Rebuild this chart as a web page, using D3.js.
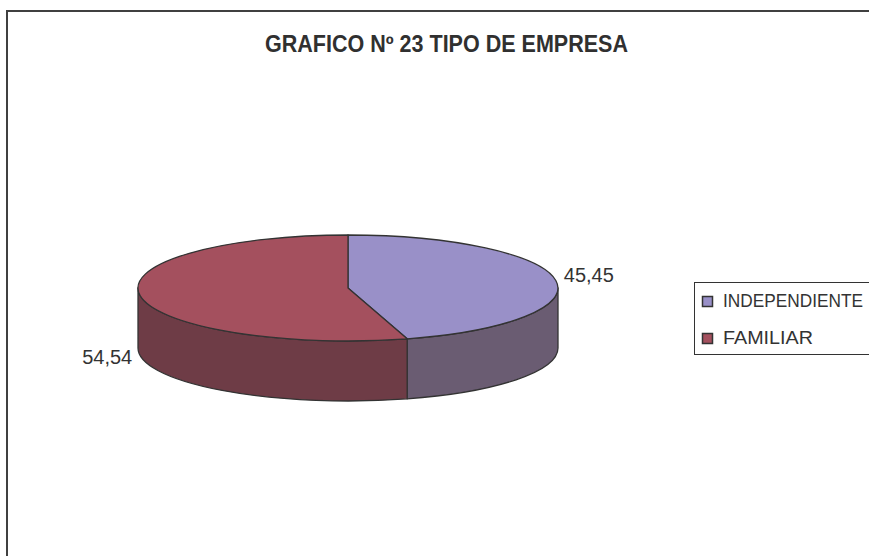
<!DOCTYPE html>
<html>
<head>
<meta charset="utf-8">
<script src="https://cdn.jsdelivr.net/npm/d3@7"></script>
<style>
html,body{margin:0;padding:0;background:#fff;overflow:hidden;}
svg{display:block;font-family:"Liberation Sans",Arial,sans-serif;}
</style>
</head>
<body>
<div id="chart"></div>
<script>
// GRAFICO Nº 23 – pie 3D
const TITLE="GRAFICO Nº 23 TIPO DE EMPRESA";
const categories=["INDEPENDIENTE","FAMILIAR"];
const values=[45.45,54.54];
const topColors=["#9990c8","#a4505e"];
const sideColors=["#6a5c72","#6e3c46"];

const W=869,H=556;
const CX=348,CY=288,RX=210,RY=53,DEPTH=60;
const STROKE="#333333";

const svg=d3.select("#chart").append("svg").attr("width",W).attr("height",H);

// ── CADRE ─────────────────────────────────────────────
svg.append("rect").attr("x",7).attr("y",11).attr("width",W+40).attr("height",H+40)
  .attr("fill","white").attr("stroke","#404040").attr("stroke-width",2);

// ── TITRE ─────────────────────────────────────────────
svg.append("text").attr("x",446.5).attr("y",52).attr("text-anchor","middle")
  .attr("font-size",23).attr("font-weight","bold").attr("fill","#303030")
  .attr("textLength",363).attr("lengthAdjust","spacingAndGlyphs").text(TITLE);

// ── PIE ───────────────────────────────────────────────
const arcs=d3.pie().sort(null).startAngle(0).endAngle(2*Math.PI)(values);
const pt=(a,dy=0)=>[CX+RX*Math.sin(a),CY-RY*Math.cos(a)+dy];
const P=p=>p[0].toFixed(2)+","+p[1].toFixed(2);

const g=svg.append("g");

// côtés (seulement la moitié avant)
const F0=Math.PI/2,F1=3*Math.PI/2;
arcs.forEach((d,i)=>{
  const s0=Math.max(d.startAngle,F0),s1=Math.min(d.endAngle,F1);
  if(s1<=s0)return;
  const path=`M${P(pt(s0))} A${RX},${RY} 0 0 1 ${P(pt(s1))} L${P(pt(s1,DEPTH))} A${RX},${RY} 0 0 0 ${P(pt(s0,DEPTH))} Z`;
  g.append("path").attr("d",path).attr("fill",sideColors[i])
    .attr("stroke",STROKE).attr("stroke-width",1.3).attr("stroke-linejoin","round");
});

// dessus
arcs.forEach((d,i)=>{
  const large=d.endAngle-d.startAngle>Math.PI?1:0;
  const path=`M${CX},${CY} L${P(pt(d.startAngle))} A${RX},${RY} 0 ${large} 1 ${P(pt(d.endAngle))} Z`;
  g.append("path").attr("d",path).attr("fill",topColors[i])
    .attr("stroke",STROKE).attr("stroke-width",1.3).attr("stroke-linejoin","round");
});

// étiquettes
arcs.forEach((d,i)=>{
  const a=(d.startAngle+d.endAngle)/2;
  const front=-Math.cos(a)>0;
  const x=CX+(RX+8)*Math.sin(a);
  const y=CY-RY*Math.cos(a)+(front?DEPTH+1:-5);
  svg.append("text").attr("x",x).attr("y",y).attr("dy","0.35em")
    .attr("text-anchor",Math.sin(a)>=0?"start":"end")
    .attr("font-size",20).attr("fill","#333333")
    .text(String(values[i]).replace(".",","));
});

// ── LÉGENDE ───────────────────────────────────────────
svg.append("rect").attr("x",694.5).attr("y",282.5).attr("width",200).attr("height",72)
  .attr("fill","white").attr("stroke","#333333").attr("stroke-width",1);
const legW=[140,90];
categories.forEach((c,i)=>{
  const y=296+i*37;
  svg.append("rect").attr("x",702.5).attr("y",y+0.5).attr("width",10).attr("height",10)
    .attr("fill",topColors[i]).attr("stroke",STROKE).attr("stroke-width",1.5);
  svg.append("text").attr("x",723).attr("y",y+11).attr("font-size",18.5).attr("fill","#333333")
    .attr("textLength",legW[i]).attr("lengthAdjust","spacingAndGlyphs").text(c);
});
</script>
</body>
</html>
